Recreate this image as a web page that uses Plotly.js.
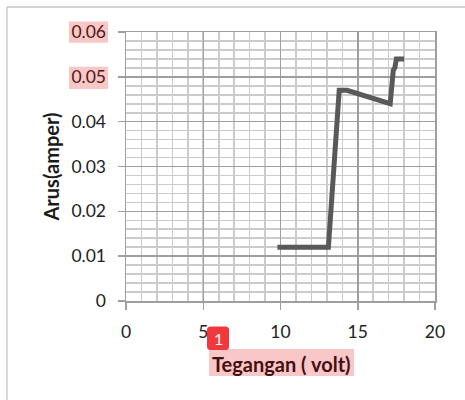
<!DOCTYPE html>
<html>
<head>
<meta charset="utf-8">
<script src="https://cdn.plot.ly/plotly-3.0.1.min.js"></script>
<style>html,body{margin:0;padding:0;background:#fff;}#chart{width:465px;height:400px;}</style>
</head>
<body>
<div id="chart"></div>
<script>
// Data
const teganganVolt = [9.8, 13.1, 13.8, 14.3, 17.1, 17.3, 17.4, 17.5, 18.0];
const arusAmper    = [0.012, 0.012, 0.047, 0.047, 0.044, 0.0515, 0.052, 0.054, 0.054];
const xTickVals = [0, 5, 10, 15, 20];
const xTickText = ['0', '5', '10', '15', '20'];
const yTickVals = [0, 0.01, 0.02, 0.03, 0.04, 0.05, 0.06];
const yTickText = ['0', '0.01', '0.02', '0.03', '0.04', '0.05', '0.06'];
const xTitle = 'Tegangan ( volt)';
const yTitle = 'Arus(amper)';

// plot-area geometry (pixels) and helpers to convert to paper coords
const W = 465, H = 400;
const L = 126, R = 30, T = 32, B = 99;
const PW = W - L - R, PH = H - T - B;
const px = v => (v - L) / PW;
const py = v => (H - B - v) / PH;

// rounded rectangle path in paper coords (for the badge)
function roundRect(x0, y0, x1, y1, r) {
  const P = (x, y) => px(x) + ',' + py(y);
  return 'M' + P(x0 + r, y0) + ' L' + P(x1 - r, y0) + ' Q' + P(x1, y0) + ' ' + P(x1, y0 + r) +
         ' L' + P(x1, y1 - r) + ' Q' + P(x1, y1) + ' ' + P(x1 - r, y1) +
         ' L' + P(x0 + r, y1) + ' Q' + P(x0, y1) + ' ' + P(x0, y1 - r) +
         ' L' + P(x0, y0 + r) + ' Q' + P(x0, y0) + ' ' + P(x0 + r, y0) + ' Z';
}

const major = '#9e9e9e', minor = '#cbcbcb';
const fam = 'Lato, "Open Sans", sans-serif';
const tickFont = {family: fam, size: 17.5, color: '#222222'};

const trace = {
  x: teganganVolt, y: arusAmper, type: 'scatter', mode: 'lines',
  line: {color: '#595959', width: 5}, hoverinfo: 'skip'
};

const layout = {
  width: W, height: H,
  margin: {l: L, r: R, t: T, b: B, pad: 0},
  paper_bgcolor: '#ffffff', plot_bgcolor: '#ffffff',
  showlegend: false,
  xaxis: {
    range: [0, 20], tickmode: 'array', tickvals: xTickVals, ticktext: xTickText,
    showgrid: true, gridcolor: major, gridwidth: 1.5,
    minor: {dtick: 1, showgrid: true, gridcolor: minor, gridwidth: 1.6, ticks: ''},
    showline: true, linecolor: major, linewidth: 1.5, mirror: true,
    ticks: 'outside', ticklen: 7, tickwidth: 1.5, tickcolor: major,
    ticklabelstandoff: 7,
    zeroline: false, tickfont: tickFont, fixedrange: true
  },
  yaxis: {
    range: [0, 0.06], tickmode: 'array', tickvals: yTickVals, ticktext: yTickText,
    showgrid: true, gridcolor: major, gridwidth: 1.5,
    minor: {dtick: 0.002, showgrid: true, gridcolor: minor, gridwidth: 1.6, ticks: ''},
    showline: true, linecolor: major, linewidth: 1.5, mirror: true,
    ticks: 'outside', ticklen: 7, tickwidth: 1.5, tickcolor: major,
    ticklabelstandoff: 8,
    zeroline: false, tickfont: tickFont, fixedrange: true
  },
  shapes: [
    // outer chart frame
    {type: 'line', xref: 'paper', yref: 'paper', x0: px(7), x1: px(470), y0: py(7), y1: py(7),
     line: {color: '#c4c4c4', width: 1.3}},
    {type: 'line', xref: 'paper', yref: 'paper', x0: px(7), x1: px(7), y0: py(7), y1: py(410),
     line: {color: '#c4c4c4', width: 1.3}},
    // highlight overlays on tick labels
    {type: 'rect', xref: 'paper', yref: 'paper', layer: 'above', x0: px(69), x1: px(108), y0: py(21.5), y1: py(42.7),
     fillcolor: 'rgba(230,0,0,0.22)', line: {width: 0}},
    {type: 'rect', xref: 'paper', yref: 'paper', layer: 'above', x0: px(69), x1: px(108), y0: py(66.7), y1: py(89),
     fillcolor: 'rgba(230,0,0,0.22)', line: {width: 0}},
    // highlight behind x title
    {type: 'rect', xref: 'paper', yref: 'paper', layer: 'above', x0: px(209), x1: px(354), y0: py(349), y1: py(376),
     fillcolor: '#f9c7c7', line: {width: 0}},
    // red badge
    {type: 'path', xref: 'paper', yref: 'paper', layer: 'above', path: roundRect(207, 326.5, 229, 350, 3.5),
     fillcolor: '#f2383c', line: {width: 0}}
  ],
  annotations: [
    {text: '<b>' + yTitle + '</b>', xref: 'paper', yref: 'paper', x: px(50.5), y: py(167),
     xanchor: 'center', yanchor: 'middle', textangle: -90, showarrow: false,
     font: {family: fam, size: 20, color: '#1a1a1a'}},
    {text: '<b>' + xTitle + '</b>', xref: 'paper', yref: 'paper', x: px(281.5), y: py(363.5),
     xanchor: 'center', yanchor: 'middle', showarrow: false,
     font: {family: fam, size: 20, color: '#451010'}},
    {text: '1', xref: 'paper', yref: 'paper', x: px(218), y: py(338.5),
     xanchor: 'center', yanchor: 'middle', showarrow: false,
     font: {family: fam, size: 16, color: '#ffffff'}}
  ]
};

Plotly.newPlot('chart', [trace], layout, {displayModeBar: false, staticPlot: true});
</script>
</body>
</html>
